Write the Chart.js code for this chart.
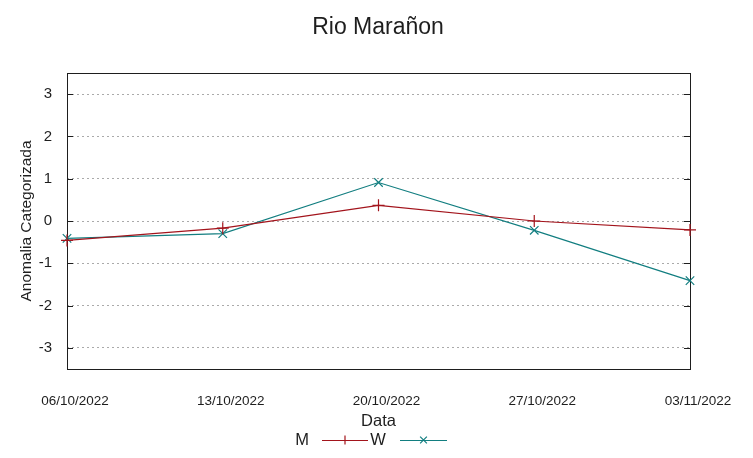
<!DOCTYPE html>
<html>
<head>
<meta charset="utf-8">
<script src="https://cdn.jsdelivr.net/npm/chart.js@4"></script>
<style>
  html, body { margin: 0; padding: 0; background: #fff; }
  canvas { display: block; }
</style>
</head>
<body>
<canvas id="chart" width="753" height="458"></canvas>
<script>
const dates = ["06/10/2022", "13/10/2022", "20/10/2022", "27/10/2022", "03/11/2022"];
const serieM = [-0.46, -0.17, 0.37, 0.0, -0.21];
const serieW = [-0.41, -0.30, 0.91, -0.22, -1.41];
const yTicks = [-3, -2, -1, 0, 1, 2, 3];

const FONT = "'Liberation Sans', Arial, sans-serif";
const INK = "#1e1e1e";
const RED = "#a3141c";
const TEAL = "#127e80";

// gnuplot-like frame, inward y tick marks, title and legend
const frame = {
  id: "frame",
  beforeDatasetsDraw(chart) {
    const { ctx, chartArea: a, scales } = chart;
    ctx.save();
    ctx.strokeStyle = INK;
    ctx.lineWidth = 1;
    ctx.beginPath();
    yTicks.forEach(v => {
      const y = Math.round(scales.y.getPixelForValue(v)) + 0.5;
      ctx.moveTo(a.left, y); ctx.lineTo(a.left + 6, y);
      ctx.moveTo(a.right, y); ctx.lineTo(a.right - 6, y);
    });
    ctx.stroke();
    ctx.strokeRect(Math.round(a.left) + 0.5, Math.round(a.top) + 0.5,
      Math.round(a.right - a.left), Math.round(a.bottom - a.top));
    ctx.restore();
  },
  afterDraw(chart) {
    const { ctx } = chart;
    ctx.save();
    ctx.fillStyle = INK;
    ctx.textAlign = "center";
    ctx.textBaseline = "middle";
    ctx.font = "23px " + FONT;
    ctx.fillText("Rio Marañon", 378, 28);

    // legend: label, then line sample with marker
    const items = [
      { ds: chart.data.datasets[0], tx: 302, x0: 322, x1: 368 },
      { ds: chart.data.datasets[1], tx: 378, x0: 400, x1: 447 }
    ];
    const ly = 440;
    ctx.font = "16.5px " + FONT;
    items.forEach(it => {
      ctx.fillStyle = INK;
      ctx.fillText(it.ds.label, it.tx, ly);
      ctx.strokeStyle = it.ds.borderColor;
      ctx.lineWidth = 1.2;
      ctx.beginPath();
      ctx.moveTo(it.x0, ly + 0.5); ctx.lineTo(it.x1, ly + 0.5);
      const cx = (it.x0 + it.x1) / 2, r = 4.5;
      if (it.ds.pointStyle === "cross") {
        ctx.moveTo(cx - r, ly + 0.5); ctx.lineTo(cx + r, ly + 0.5);
        ctx.moveTo(cx, ly - r); ctx.lineTo(cx, ly + r);
      } else {
        ctx.moveTo(cx - r * 0.75, ly - r * 0.75); ctx.lineTo(cx + r * 0.75, ly + r * 0.75);
        ctx.moveTo(cx - r * 0.75, ly + r * 0.75); ctx.lineTo(cx + r * 0.75, ly - r * 0.75);
      }
      ctx.stroke();
    });
    ctx.restore();
  }
};

new Chart(document.getElementById("chart"), {
  type: "line",
  data: {
    labels: dates,
    datasets: [
      {
        label: "M",
        data: serieM,
        borderColor: RED,
        backgroundColor: RED,
        borderWidth: 1.2,
        pointStyle: "cross",
        pointRadius: 6,
        pointBorderWidth: 1.2,
        tension: 0
      },
      {
        label: "W",
        data: serieW,
        borderColor: TEAL,
        backgroundColor: TEAL,
        borderWidth: 1.2,
        pointStyle: "crossRot",
        pointRadius: 6,
        pointBorderWidth: 1.2,
        tension: 0
      }
    ]
  },
  options: {
    responsive: false,
    animation: false,
    layout: { padding: { left: 0, right: 63, top: 73, bottom: 0 } },
    plugins: {
      legend: { display: false },
      title: { display: false },
      tooltip: { enabled: false }
    },
    scales: {
      x: {
        offset: false,
        grid: { display: false, drawTicks: false },
        border: { display: false },
        ticks: {
          color: INK,
          font: { family: FONT, size: 13.5 },
          padding: 24,
          labelOffset: 8,
          maxRotation: 0,
          autoSkip: false
        },
        title: {
          display: true,
          text: "Data",
          color: INK,
          font: { family: FONT, size: 16.5 },
          padding: { top: 0, bottom: 27 }
        },
        afterFit(s) { s.height = 89; }
      },
      y: {
        min: -3.5,
        max: 3.5,
        afterBuildTicks(s) { s.ticks = yTicks.map(v => ({ value: v })); },
        grid: { color: "#aaaaaa", lineWidth: 1, drawTicks: false },
        border: { display: false, dash: [2, 3] },
        ticks: {
          color: INK,
          font: { family: FONT, size: 15 },
          padding: 15
        },
        title: {
          display: true,
          text: "Anomalia Categorizada",
          color: INK,
          font: { family: FONT, size: 15.5 },
          padding: { top: 17, bottom: 0 }
        },
        afterFit(s) { s.width = 67; }
      }
    }
  },
  plugins: [frame]
});
</script>
</body>
</html>
